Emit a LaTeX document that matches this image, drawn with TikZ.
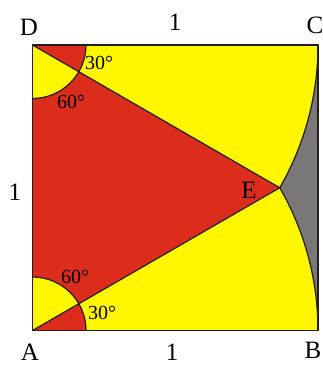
\documentclass[tikz,border=0pt]{standalone}
\usepackage{fontspec}
\setmainfont{Liberation Serif}
\usetikzlibrary{calc}
\definecolor{fillyellow}{RGB}{255,247,0}
\definecolor{fillred}{RGB}{220,45,28}
\definecolor{fillgray}{RGB}{122,120,118}
\definecolor{edgecol}{RGB}{35,30,30}
\begin{document}
\begin{tikzpicture}[x=1pt,y=1pt,
  edge/.style={draw=edgecol,line width=1.4pt,line join=round},
  thin edge/.style={draw=edgecol,line width=1.2pt},
  ptlabel/.style={font=\fontsize{25}{25}\selectfont,inner sep=0pt},
  anglabel/.style={font=\fontsize{20}{20}\selectfont,inner sep=0pt}]
\useasboundingbox (0,0) rectangle (323,365);
\def\s{285.5}
\def\r{53.5}
\coordinate (A) at (32.5,34.5);
\coordinate (B) at (318,34.5);
\coordinate (C) at (318,320);
\coordinate (D) at (32.5,320);
\coordinate (E) at ($(A)+(30:\s)$);
% square
\fill[fillyellow] (A) rectangle (C);
% gray region
\filldraw[fill=fillgray,thin edge] (C) arc[start angle=0,end angle=-30,radius=\s]
  arc[start angle=30,end angle=0,radius=\s] -- cycle;
% triangle
\fill[fillred] (A) -- (D) -- (E) -- cycle;
% angle sectors at D
\fill[fillred] (D) -- ++(0:\r) arc[start angle=0,end angle=-30,radius=\r] -- cycle;
\fill[fillyellow] (D) -- ++(-30:\r) arc[start angle=-30,end angle=-90,radius=\r] -- cycle;
% angle sectors at A
\fill[fillred] (A) -- ++(0:\r) arc[start angle=0,end angle=30,radius=\r] -- cycle;
\fill[fillyellow] (A) -- ++(30:\r) arc[start angle=30,end angle=90,radius=\r] -- cycle;
% arcs
\draw[thin edge] ($(D)+(0:\r)$) arc[start angle=0,end angle=-90,radius=\r];
\draw[thin edge] ($(A)+(0:\r)$) arc[start angle=0,end angle=90,radius=\r];
% triangle edges and square
\draw[thin edge] (D) -- (E) -- (A);
\draw[edge] (A) -- (B) -- (C) -- (D) -- cycle;
% labels
\node[ptlabel] (lD) at (29,338) {D};
\node[ptlabel] (lC) at (315,340) {C};
\node[ptlabel] (lA) at (30,13) {A};
\node[ptlabel] (lB) at (313,15) {B};
\node[ptlabel] (lE) at (249,175) {E};
\node[ptlabel] (top1) at (175,343) {1};
\node[ptlabel] (left1) at (15,173) {1};
\node[ptlabel] (bot1) at (172,13) {1};
\node[anglabel] (d30) at (99,302) {30°};
\node[anglabel] (d60) at (71,263) {60°};
\node[anglabel] (a60) at (75,88) {60°};
\node[anglabel] (a30) at (102,52) {30°};
\end{tikzpicture}
\end{document}
